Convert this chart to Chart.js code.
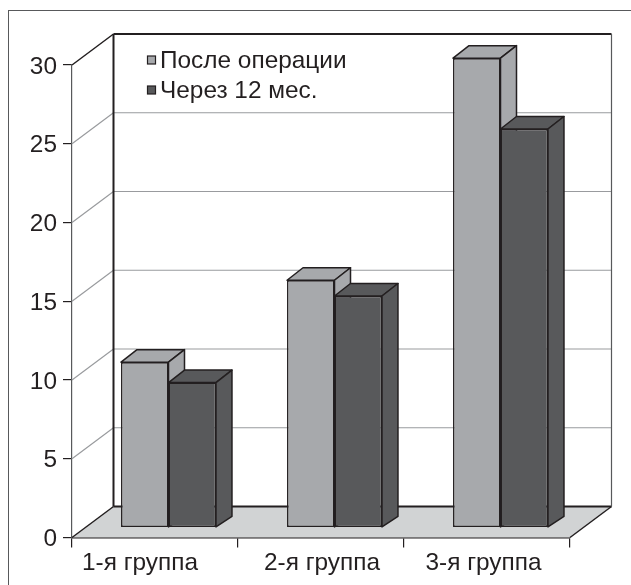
<!DOCTYPE html>
<html lang="ru">
<head>
  <meta charset="UTF-8" />
  <title>Группы</title>
  <script src="https://cdn.jsdelivr.net/npm/chart.js"></script>
  <style>
    html, body { margin: 0; padding: 0; background: #fff; overflow: hidden; }
    canvas { display: block; }
    #frame { position: absolute; left: 8px; top: 10px; right: -5px; bottom: -5px; border: 1.5px solid #58595b; pointer-events: none; }
  </style>
</head>
<body>
  <canvas id="chartCanvas" width="631" height="585"></canvas>
  <div id="frame"></div>

  <script>
    const categories = ['1-я группа', '2-я группа', '3-я группа'];
    const afterSurgery = [10.5, 15.7, 29.8];
    const after12Months = [9.2, 14.7, 25.3];
    const seriesNames = ['После операции', 'Через 12 мес.'];
    const yTicks = [0, 5, 10, 15, 20, 25, 30];

    const LIGHT = '#a7a9ac';
    const DARK = '#58595b';
    const EDGE = '#231f20';
    const FONT = '"Liberation Sans", Arial, sans-serif';
    const FONT_SIZE = 24.4;

    // how far the back wall sits behind the front plane
    const WALL_DX = 41.5;
    const WALL_DY = 31;
    // bars stand inside the floor, and have this much depth of their own
    const BAR_SHIFT_X = 13.5;
    const BAR_SHIFT_Y = 10;
    const BAR_DX = 16;
    const BAR_DY = 12.5;
    // category labels are not quite centred under their sections
    const LABEL_NUDGE = [-15, 1, -3.5];

    function line(ctx, x1, y1, x2, y2, color, width) {
      ctx.strokeStyle = color;
      ctx.lineWidth = width;
      ctx.beginPath();
      ctx.moveTo(x1, y1);
      ctx.lineTo(x2, y2);
      ctx.stroke();
    }

    function face(ctx, points, fill) {
      ctx.fillStyle = fill;
      ctx.strokeStyle = EDGE;
      ctx.lineWidth = 1.5;
      ctx.lineJoin = 'round';
      ctx.beginPath();
      points.forEach((p, i) => i ? ctx.lineTo(p[0], p[1]) : ctx.moveTo(p[0], p[1]));
      ctx.closePath();
      ctx.fill();
      ctx.stroke();
    }

    // floor, back wall and receding grid lines
    function drawRoom(chart) {
      const { ctx, chartArea: a, scales } = chart;
      const y = scales.y;
      const base = y.getPixelForValue(0);
      const top = y.getPixelForValue(30);

      ctx.fillStyle = '#d1d3d4';
      ctx.beginPath();
      ctx.moveTo(a.left, base);
      ctx.lineTo(a.left + WALL_DX, base - WALL_DY);
      ctx.lineTo(a.right + WALL_DX, base - WALL_DY);
      ctx.lineTo(a.right, base);
      ctx.closePath();
      ctx.fill();

      yTicks.slice(1, -1).forEach(v => {
        const py = y.getPixelForValue(v);
        line(ctx, a.left, py, a.left + WALL_DX, py - WALL_DY, '#999b9e', 1.2);
        line(ctx, a.left + WALL_DX, py - WALL_DY, a.right + WALL_DX, py - WALL_DY, '#999b9e', 1.2);
      });

      line(ctx, a.left, top, a.left + WALL_DX, top - WALL_DY, EDGE, 1.5);
      line(ctx, a.left, base, a.left + WALL_DX, base - WALL_DY, EDGE, 1.5);
      line(ctx, a.right, base, a.right + WALL_DX, base - WALL_DY, EDGE, 1.5);
      line(ctx, a.left + WALL_DX, top - WALL_DY, a.left + WALL_DX, base - WALL_DY, EDGE, 2);
      line(ctx, a.left + WALL_DX, top - WALL_DY, a.right + WALL_DX, top - WALL_DY, EDGE, 2);
      line(ctx, a.left + WALL_DX, base - WALL_DY, a.right + WALL_DX, base - WALL_DY, EDGE, 2);
      line(ctx, a.right + WALL_DX, top - WALL_DY, a.right + WALL_DX, base - WALL_DY, '#58595b', 1.2);
    }

    // top and side faces; light series first so the dark one covers it
    function drawBarDepth(chart, index) {
      const ctx = chart.ctx;
      const color = chart.data.datasets[index].backgroundColor;
      chart.getDatasetMeta(index).data.forEach(bar => {
        const left = bar.x - bar.width / 2;
        const right = bar.x + bar.width / 2;
        face(ctx, [[left, bar.y], [left + BAR_DX, bar.y - BAR_DY], [right + BAR_DX, bar.y - BAR_DY], [right, bar.y]], color);
        face(ctx, [[right, bar.y], [right + BAR_DX, bar.y - BAR_DY], [right + BAR_DX, bar.base - BAR_DY + 2], [right, bar.base]], color);
      });
    }

    const roomPlugin = {
      id: 'room',
      beforeDatasetsDraw(chart) {
        const ctx = chart.ctx;
        ctx.save();
        drawRoom(chart);
        ctx.restore();
        // the whole bar plane is pushed into the room; restored after the fronts
        ctx.save();
        ctx.translate(BAR_SHIFT_X, -BAR_SHIFT_Y);
        drawBarDepth(chart, 0);
        drawBarDepth(chart, 1);
      },
      afterDatasetsDraw(chart) {
        chart.ctx.restore();
      }
    };

    const textPlugin = {
      id: 'chartText',
      afterDraw(chart) {
        const ctx = chart.ctx;
        ctx.save();
        ctx.font = FONT_SIZE + 'px ' + FONT;
        ctx.textBaseline = 'middle';
        seriesNames.forEach((name, i) => {
          const y = 60 + i * 30;
          ctx.fillStyle = i ? DARK : LIGHT;
          ctx.strokeStyle = EDGE;
          ctx.lineWidth = 1.2;
          ctx.fillRect(147.5, y - 4, 8, 8);
          ctx.strokeRect(147.5, y - 4, 8, 8);
          ctx.fillStyle = EDGE;
          ctx.fillText(name, 160, y + 1);
        });
        ctx.textAlign = 'center';
        categories.forEach((name, i) => {
          ctx.fillText(name, chart.scales.x.getPixelForValue(i) + LABEL_NUDGE[i], 563.5);
        });
        ctx.restore();
      }
    };

    new Chart(document.getElementById('chartCanvas'), {
      type: 'bar',
      data: {
        labels: categories,
        datasets: [
          { label: seriesNames[0], data: afterSurgery, backgroundColor: LIGHT },
          { label: seriesNames[1], data: after12Months, backgroundColor: DARK }
        ].map(d => ({ ...d, borderColor: EDGE, borderWidth: 1.5, borderSkipped: false, clip: false, categoryPercentage: 0.572, barPercentage: 1 }))
      },
      options: {
        responsive: false,
        animation: false,
        layout: { padding: { top: 65, right: 61, left: 0, bottom: 0 } },
        plugins: { legend: { display: false }, tooltip: { enabled: false } },
        scales: {
          x: {
            afterFit(scale) { scale.height = 47.5; },
            border: { color: EDGE, width: 1.5 },
            grid: { drawOnChartArea: false, tickLength: 10, color: EDGE, lineWidth: 1.2 },
            ticks: { display: false }
          },
          y: {
            min: 0,
            max: 30,
            afterFit(scale) { scale.width = 72; },
            afterBuildTicks(scale) { scale.ticks = yTicks.map(value => ({ value })); },
            border: { color: '#58595b', width: 1.2 },
            grid: { drawOnChartArea: false, tickLength: 9, color: EDGE, lineWidth: 1.2 },
            ticks: { color: EDGE, padding: 6, labelOffset: 2, font: { family: FONT, size: FONT_SIZE } }
          }
        }
      },
      plugins: [roomPlugin, textPlugin]
    });
  </script>
</body>
</html>
